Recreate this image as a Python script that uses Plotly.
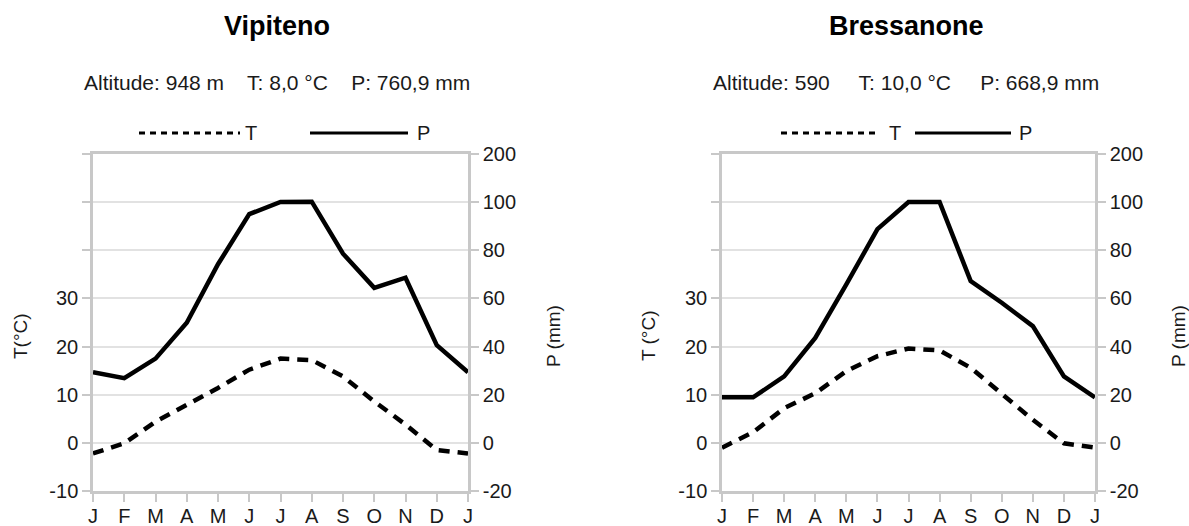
import plotly.graph_objects as go

W, H = 1189, 526

months = ["J", "F", "M", "A", "M", "J", "J", "A", "S", "O", "N", "D", "J"]

stations = ["Vipiteno", "Bressanone"]
subtitles = [
    "Altitude: 948 m\u00a0\u00a0\u00a0 T: 8,0 °C\u00a0\u00a0\u00a0 P: 760,9 mm",
    "Altitude: 590\u00a0\u00a0\u00a0\u00a0 T: 10,0 °C\u00a0\u00a0\u00a0\u00a0 P: 668,9 mm",
]
t_titles = ["T(°C)", "T (°C)"]
p_title = "P (mm)"

vipiteno_T = [-2.2, -0.1, 4.4, 7.9, 11.4, 15.2, 17.5, 17.2, 13.8, 8.6, 3.8, -1.5, -2.2]
vipiteno_P = [29.3, 26.9, 35.0, 49.9, 74.2, 95.0, 100.5, 101.0, 78.6, 64.4, 68.6, 40.6, 29.3]
bressanone_T = [-1.0, 2.2, 7.2, 10.3, 14.9, 18.0, 19.6, 19.2, 15.6, 10.3, 4.8, -0.1, -1.0]
bressanone_P = [18.9, 18.9, 27.6, 43.6, 65.8, 88.8, 100.3, 100.3, 67.2, 58.2, 48.5, 27.6, 18.9]

T_series = [vipiteno_T, bressanone_T]
P_series = [vipiteno_P, bressanone_P]

# Temperature axis ticks (left) and precipitation axis ticks (right)
t_tickvals = [-10, 0, 10, 20, 30, 40, 50, 60]
t_ticktext = ["-10", "0", "10", "20", "30", "", "", ""]
p_ticklabels = [-20, 0, 20, 40, 60, 80, 100, 200]


def p_display(p):
    # climate-diagram scale: above 100 mm the scale is compressed
    return p if p <= 100 else 100 + (p - 100) / 5.0


p_tickvals = [p_display(v) for v in p_ticklabels]
p_ticktext = [str(v) for v in p_ticklabels]

GRID = "#e2e2e2"
AXIS = "#c8c8c8"
TXT = "#1a1a1a"
FONT = "Liberation Sans, Arial, sans-serif"


def px(x):
    return x / W


def py(y):
    return 1 - y / H


# panel layout in pixels
panels = [
    dict(x0=93, x1=468, title_x=277, legend=(139, 240, 243, 310, 408, 415),
         ttl_x=20, ptl_x=553),
    dict(x0=722, x1=1095, title_x=906, legend=(781, 879, 887, 915, 1011, 1017),
         ttl_x=648, ptl_x=1178),
]
y_top, y_bot = 154, 491

fig = go.Figure()
layout = dict(
    width=W, height=H,
    margin=dict(l=0, r=0, t=0, b=0, pad=0),
    paper_bgcolor="white", plot_bgcolor="white",
    showlegend=False,
    font=dict(family=FONT, size=20, color=TXT),
)
annotations = []
shapes = []

for i, st in enumerate(stations):
    pn = panels[i]
    xa = "x" if i == 0 else "x2"
    ya_t = "y" if i == 0 else "y3"
    ya_p = "y2" if i == 0 else "y4"
    xkey = "xaxis" if i == 0 else "xaxis2"
    tkey = "yaxis" if i == 0 else "yaxis3"
    pkey = "yaxis2" if i == 0 else "yaxis4"

    x = list(range(len(months)))
    fig.add_trace(go.Scatter(
        x=x, y=[p_display(v) for v in P_series[i]], xaxis=xa, yaxis=ya_p,
        mode="lines", name="P", line=dict(color="black", width=4.5),
    ))
    fig.add_trace(go.Scatter(
        x=x, y=T_series[i], xaxis=xa, yaxis=ya_t,
        mode="lines", name="T", line=dict(color="black", width=4.5, dash="11px,8px"),
    ))

    dom_x = [px(pn["x0"]), px(pn["x1"])]
    dom_y = [py(y_bot), py(y_top)]
    layout[xkey] = dict(
        domain=dom_x, anchor=ya_t, range=[0, 12], automargin=False,
        tickmode="array", tickvals=x, ticktext=months,
        showgrid=False, zeroline=False,
        showline=True, linecolor=AXIS, linewidth=2.5, mirror=True,
        ticks="outside", ticklen=8, tickwidth=2, tickcolor=AXIS,
        ticklabelstandoff=-3,
        tickfont=dict(size=20, color=TXT, family=FONT),
    )
    layout[tkey] = dict(
        domain=dom_y, anchor=xa, range=[-10, 60], automargin=False,
        tickmode="array", tickvals=t_tickvals, ticktext=t_ticktext,
        showgrid=True, gridcolor=GRID, gridwidth=1.5, zeroline=False,
        showline=True, linecolor=AXIS, linewidth=2.5,
        ticks="outside", ticklen=8, tickwidth=2, tickcolor=AXIS,
        tickfont=dict(size=20, color=TXT, family=FONT),
    )
    layout[pkey] = dict(
        domain=dom_y, anchor=xa, overlaying=ya_t, side="right", range=[-20, 120],
        automargin=False,
        tickmode="array", tickvals=p_tickvals, ticktext=p_ticktext,
        showgrid=False, zeroline=False,
        showline=True, linecolor=AXIS, linewidth=2.5,
        ticks="outside", ticklen=8, tickwidth=2, tickcolor=AXIS,
        tickfont=dict(size=20, color=TXT, family=FONT),
    )

    annotations.append(dict(
        text="<b>" + st + "</b>", x=px(pn["title_x"]), y=py(26), xref="paper", yref="paper",
        showarrow=False, xanchor="center", yanchor="middle",
        font=dict(size=27, color="black", family=FONT),
    ))
    annotations.append(dict(
        text=subtitles[i], x=px(pn["title_x"]), y=py(83), xref="paper", yref="paper",
        showarrow=False, xanchor="center", yanchor="middle",
        font=dict(size=21, color=TXT, family=FONT),
    ))
    annotations.append(dict(
        text=t_titles[i], x=px(pn["ttl_x"]), y=py(336), xref="paper", yref="paper",
        showarrow=False, xanchor="center", yanchor="middle", textangle=-90,
        font=dict(size=19, color=TXT, family=FONT),
    ))
    annotations.append(dict(
        text=p_title, x=px(pn["ptl_x"]), y=py(336), xref="paper", yref="paper",
        showarrow=False, xanchor="center", yanchor="middle", textangle=-90,
        font=dict(size=19, color=TXT, family=FONT),
    ))

    # legend (drawn manually)
    d0, d1, tx, s0, s1, pxl = pn["legend"]
    ly = 133
    shapes.append(dict(type="line", xref="paper", yref="paper",
                       x0=px(d0), x1=px(d1), y0=py(ly), y1=py(ly),
                       line=dict(color="black", width=3, dash="6px,5px")))
    shapes.append(dict(type="line", xref="paper", yref="paper",
                       x0=px(s0), x1=px(s1), y0=py(ly), y1=py(ly),
                       line=dict(color="black", width=3)))
    annotations.append(dict(
        text="T", x=px(tx), y=py(ly), xref="paper", yref="paper",
        showarrow=False, xanchor="left", yanchor="middle",
        font=dict(size=20, color=TXT, family=FONT),
    ))
    annotations.append(dict(
        text="P", x=px(pxl), y=py(ly), xref="paper", yref="paper",
        showarrow=False, xanchor="left", yanchor="middle",
        font=dict(size=20, color=TXT, family=FONT),
    ))

layout["annotations"] = annotations
layout["shapes"] = shapes
fig.update_layout(**layout)
fig.write_html(
    "out.html",
    config={"displayModeBar": False},
    post_script="document.body.style.margin='0px';document.body.style.overflow='hidden';",
)
